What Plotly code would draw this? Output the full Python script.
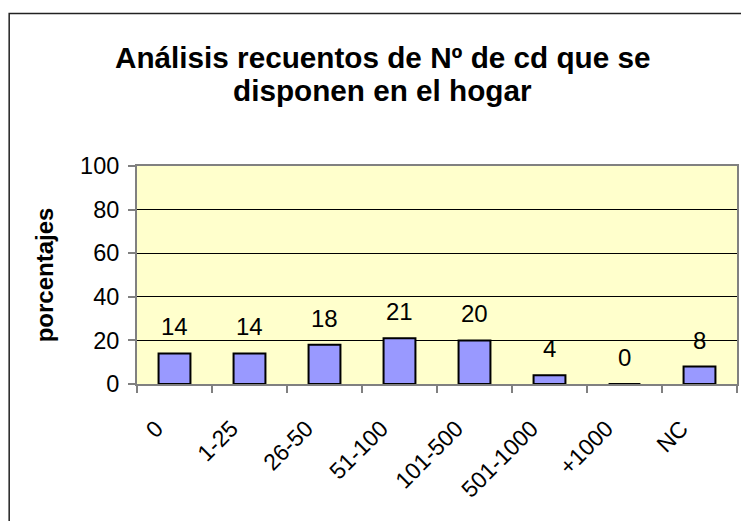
import plotly.graph_objs as go

# Data
CATEGORIES = ["0", "1-25", "26-50", "51-100", "101-500", "501-1000", "+1000", "NC"]
PERCENTAGES = [14, 14, 18, 21, 20, 4, 0, 8]
Y_TICKS = [0, 20, 40, 60, 80, 100]

TITLE_LINES = ["Análisis recuentos de Nº de cd que se", "disponen en el hogar"]
Y_TITLE = "porcentajes"

FONT = "Liberation Sans, Arial, sans-serif"
# the page body adds an 8px margin, so the figure is a bit smaller than the window
W, H = 741, 513
M_L, M_R, M_T, M_B = 129, 10, 158, 137


def px_x(px):
    return (px - M_L) / (W - M_L - M_R)


def px_y(py):
    return (H - M_B - py) / (H - M_T - M_B)


fig = go.Figure(go.Bar(
    x=CATEGORIES,
    y=PERCENTAGES,
    width=0.425,
    marker=dict(color="#9999FF", line=dict(color="#000000", width=2)),
    hoverinfo="x+y",
))

# value labels above the bars (category index, since names like "+1000" read as numbers)
for i, val in enumerate(PERCENTAGES):
    fig.add_annotation(
        x=i, y=val, xref="x", yref="y",
        text=str(val), showarrow=False,
        yanchor="bottom", yshift=11,
        font=dict(family=FONT, size=24, color="#000000"),
    )

# two title lines
for line, py in zip(TITLE_LINES, [49, 83]):
    fig.add_annotation(
        x=px_x(375.5), y=px_y(py), xref="paper", yref="paper",
        text="<b>" + line + "</b>", showarrow=False,
        xanchor="center", yanchor="middle",
        font=dict(family=FONT, size=29.7, color="#000000"),
    )

# outer frame of the chart
fig.add_shape(
    type="rect", xref="paper", yref="paper",
    x0=px_x(0.75), y0=px_y(560), x1=px_x(790), y1=px_y(5.5),
    line=dict(color="#222222", width=1.5), fillcolor="rgba(0,0,0,0)",
    layer="below",
)

fig.update_layout(
    width=W, height=H,
    margin=dict(l=M_L, r=M_R, t=M_T, b=M_B),
    paper_bgcolor="#FFFFFF",
    plot_bgcolor="#FFFFCC",
    showlegend=False,
    font=dict(family=FONT, size=24, color="#000000"),
    xaxis=dict(
        type="category",
        range=[-0.5, len(CATEGORIES) - 0.5],
        tickangle=-45,
        tickson="boundaries",
        ticks="outside", ticklen=7, tickcolor="#808080", tickwidth=1.5,
        ticklabelstandoff=20, ticklabelshift=-18,
        showline=True, linecolor="#808080", linewidth=2, mirror=True,
        showgrid=False,
        tickfont=dict(family=FONT, size=23),
        fixedrange=True,
    ),
    yaxis=dict(
        range=[0, 100],
        tickvals=Y_TICKS,
        ticks="outside", ticklen=7, tickcolor="#808080", tickwidth=1.5,
        ticklabelstandoff=4,
        showline=True, linecolor="#808080", linewidth=2, mirror=True,
        showgrid=True, gridcolor="#000000", gridwidth=1,
        zeroline=False,
        tickfont=dict(family=FONT, size=23.5),
        title=dict(text="<b>" + Y_TITLE + "</b>", standoff=20,
                   font=dict(family=FONT, size=24)),
        fixedrange=True,
    ),
)

fig.write_html("out.html", config=dict(displayModeBar=False))
